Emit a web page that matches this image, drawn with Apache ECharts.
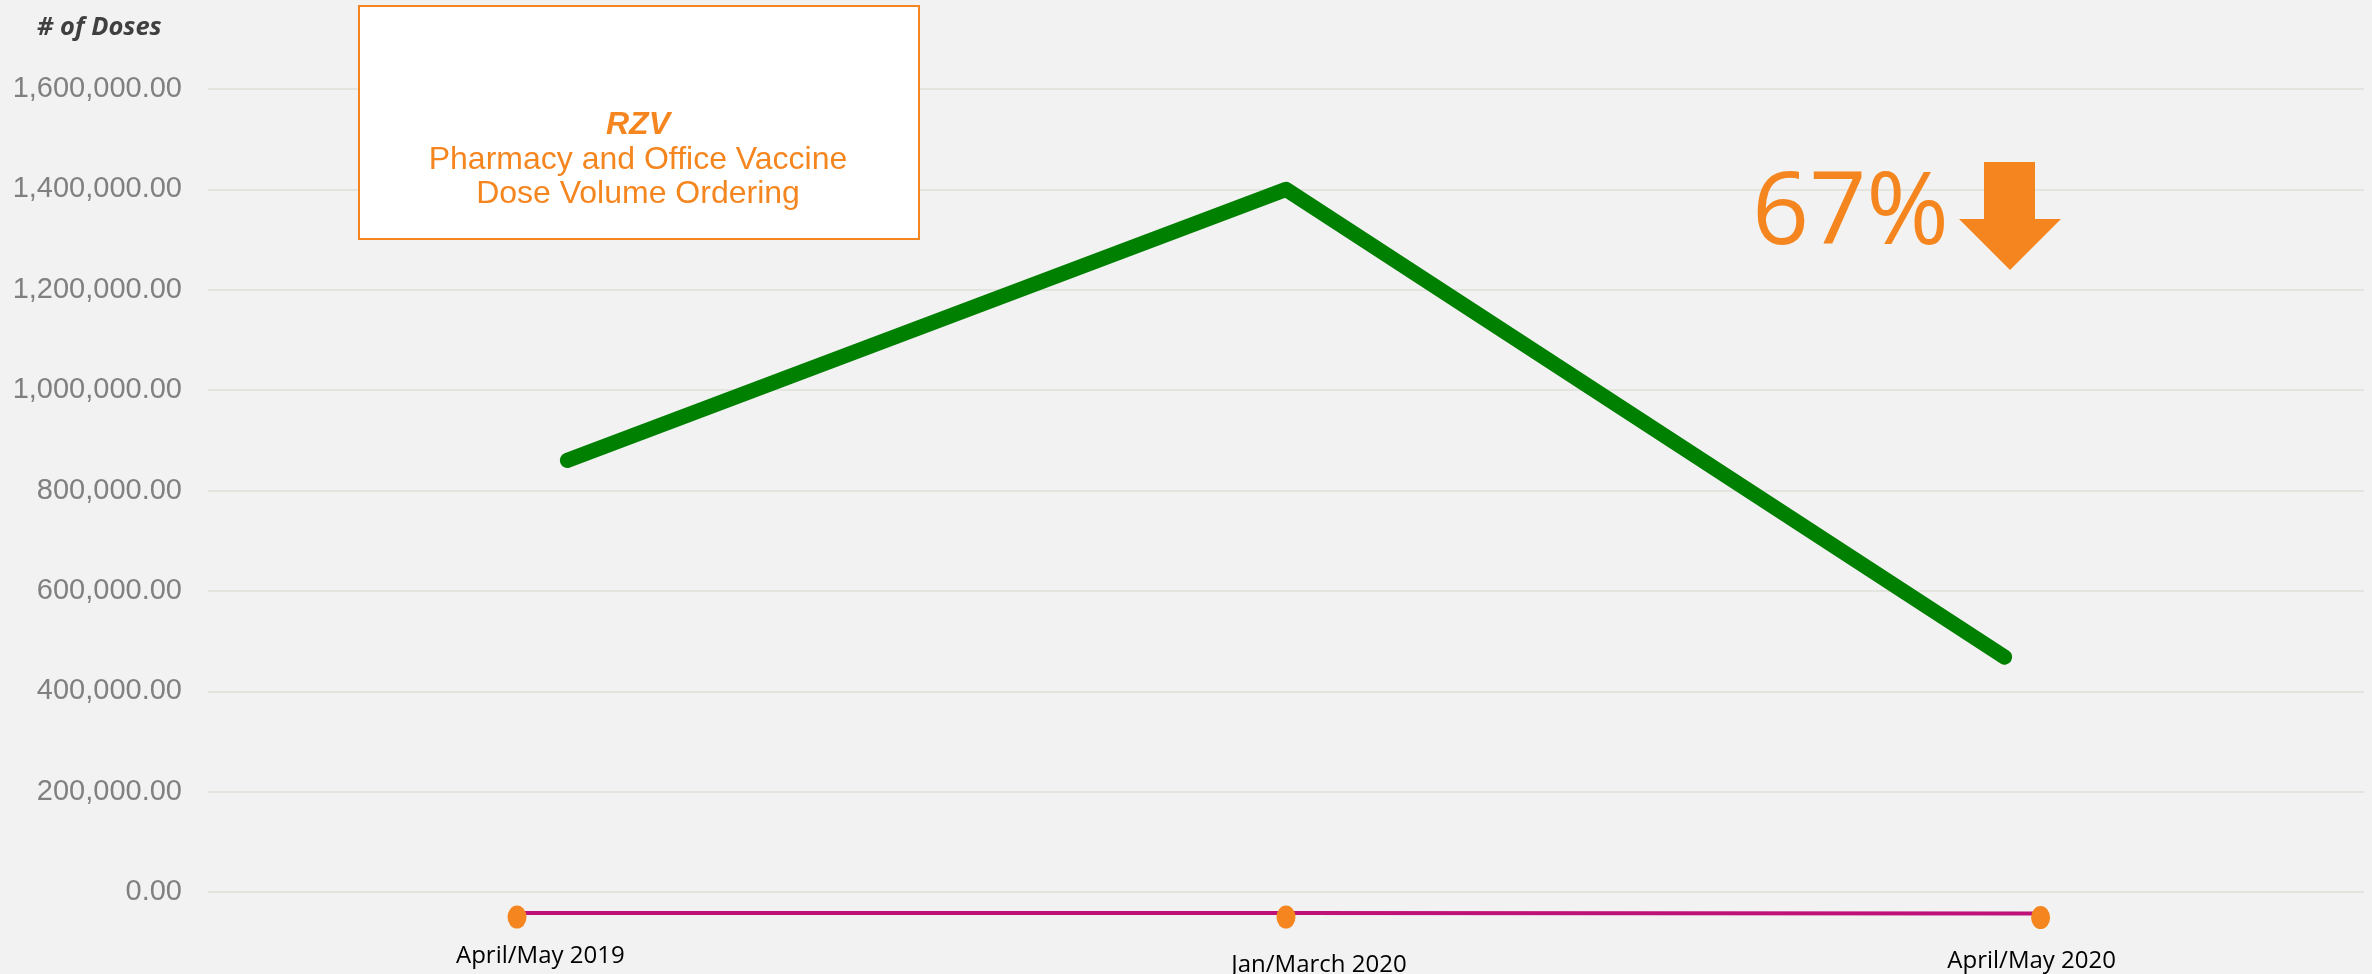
<!DOCTYPE html>
<html>
<head>
<meta charset="utf-8">
<script src="https://cdn.jsdelivr.net/npm/echarts@6/dist/echarts.min.js"></script>
<style>
  html, body { margin: 0; padding: 0; background: #F2F2F2; }
  #chart { width: 2372px; height: 974px; }
</style>
</head>
<body>
<div id="chart"></div>
<script>
// ---- data ----
const categories = ['April/May 2019', 'Jan/March 2020', 'April/May 2020'];
const rzvDoses = [860000, 1400000, 468000];
const pinkX = [-0.07, 1, 2.05];
const pinkValues = [-42000, -42000, -43000];
const yTicks = { min: 0, max: 1600000, interval: 200000 };
const yAxisTitle = '# of Doses';
const boxTitle = 'RZV';
const boxLines = ['Pharmacy and Office Vaccine', 'Dose Volume Ordering'];
const changeLabel = '67%';

const ORANGE = '#F5861F';
const chart = echarts.init(document.getElementById('chart'));

const fmt = v => v.toLocaleString('en-US', { minimumFractionDigits: 2, maximumFractionDigits: 2 });

chart.setOption({
  backgroundColor: '#F2F2F2',
  animation: false,
  title: {
    text: yAxisTitle,
    left: 32,
    top: 10,
    textStyle: {
      fontFamily: 'Open Sans',
      fontSize: 25.5,
      fontWeight: 'bold',
      fontStyle: 'italic',
      color: '#404040'
    }
  },
  grid: { left: 208, right: 8, top: 89, bottom: 82, containLabel: false, outerBoundsMode: 'none' },
  xAxis: [
    {
      type: 'category',
      data: categories,
      boundaryGap: true,
      axisLine: { show: false },
      axisTick: { show: false },
      splitLine: { show: false },
      axisLabel: {
        margin: 52,
        color: '#000000',
        fontFamily: 'Open Sans',
        fontSize: 24,
        formatter: (v, i) => `{c${i}|${v}}`,
        rich: {
          c0: { fontFamily: 'Open Sans', fontSize: 24, color: '#000', padding: [0, 54, 0, 0] },
          c1: { fontFamily: 'Open Sans', fontSize: 24, color: '#000', padding: [9, 0, 0, 66] },
          c2: { fontFamily: 'Open Sans', fontSize: 24, color: '#000', padding: [5, 0, 0, 54] }
        }
      }
    },
    {
      type: 'value',
      min: -0.5,
      max: 2.5,
      show: false
    }
  ],
  yAxis: {
    type: 'value',
    min: yTicks.min,
    max: yTicks.max,
    interval: yTicks.interval,
    axisLine: { show: false },
    axisTick: { show: false },
    axisLabel: {
      margin: 26,
      color: '#808080',
      fontFamily: 'Liberation Sans',
      fontSize: 29,
      formatter: fmt
    },
    splitLine: { show: true, lineStyle: { color: '#E4E4DE', width: 2 } }
  },
  series: [
    {
      type: 'line',
      data: rzvDoses,
      symbol: 'none',
      clip: false,
      lineStyle: { color: '#008000', width: 15, cap: 'round', join: 'round' },
      z: 3
    },
    {
      type: 'line',
      xAxisIndex: 1,
      data: pinkX.map((x, i) => [x, pinkValues[i]]),
      clip: false,
      symbol: 'circle',
      symbolSize: [19, 23],
      symbolOffset: [0, 4],
      showSymbol: true,
      itemStyle: { color: ORANGE, borderWidth: 0 },
      lineStyle: { color: '#BF1279', width: 4 },
      z: 2
    }
  ],
  graphic: [
    {
      type: 'rect',
      left: 358, top: 5,
      shape: { width: 560, height: 233 },
      style: { fill: '#FFFFFF', stroke: ORANGE, lineWidth: 2 },
      z: 10
    },
    {
      type: 'text',
      z: 11,
      style: {
        x: 638, y: 125,
        text: boxTitle,
        align: 'center', verticalAlign: 'middle',
        fill: ORANGE,
        font: 'italic bold 32px "Liberation Sans", Arial, sans-serif'
      }
    },
    {
      type: 'text',
      z: 11,
      style: {
        x: 638, y: 160,
        text: boxLines[0],
        align: 'center', verticalAlign: 'middle',
        fill: ORANGE,
        font: '32px "Liberation Sans", Arial, sans-serif'
      }
    },
    {
      type: 'text',
      z: 11,
      style: {
        x: 638, y: 194,
        text: boxLines[1],
        align: 'center', verticalAlign: 'middle',
        fill: ORANGE,
        font: '32px "Liberation Sans", Arial, sans-serif'
      }
    },
    {
      type: 'text',
      z: 11,
      style: {
        x: 1752, y: 216,
        text: changeLabel,
        align: 'left', verticalAlign: 'middle',
        fill: ORANGE,
        font: '100px "Open Sans", sans-serif'
      }
    },
    {
      type: 'polygon',
      z: 11,
      shape: {
        points: [[1984, 162], [2035, 162], [2035, 219], [2061, 219], [2010, 270], [1959, 219], [1984, 219]]
      },
      style: { fill: ORANGE }
    }
  ]
});
</script>
</body>
</html>
